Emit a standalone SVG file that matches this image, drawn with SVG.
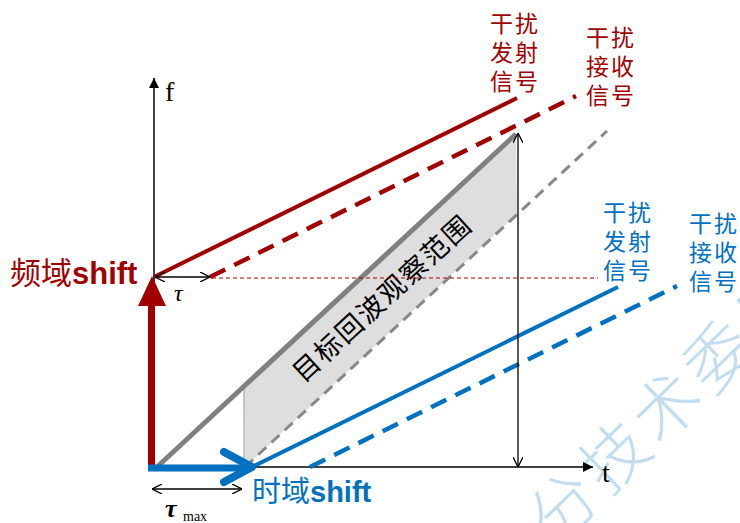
<svg xmlns="http://www.w3.org/2000/svg" width="740" height="523" viewBox="0 0 740 523">
<style>
.cjk{font-family:"Noto Sans CJK SC","Noto Sans",sans-serif}
.red{fill:#A00000}
.blue{fill:#0070C0}
.lbl{font-size:23px;letter-spacing:2px}
.ser{font-family:"Liberation Serif","Times New Roman",serif}
.thin{stroke:#000;stroke-width:1.3;fill:none}
</style>
<defs>
<marker id="ah" viewBox="0 0 10 10" refX="10" refY="5" markerWidth="10" markerHeight="10" markerUnits="userSpaceOnUse" orient="auto-start-reverse">
<path d="M0,0 L10,5 L0,10" fill="none" stroke="#000" stroke-width="1.3"/>
</marker>
<marker id="fa" viewBox="0 0 10 10" refX="10" refY="5" markerWidth="10" markerHeight="10" markerUnits="userSpaceOnUse" orient="auto">
<path d="M0,0 L10,5 L0,10 Z" fill="#000"/>
</marker>
</defs>
<rect width="740" height="523" fill="#fff"/>
<!-- watermark -->
<g id="watermark" class="cjk" fill="#C3DDF0" font-size="66" letter-spacing="6" font-weight="300">
<text dominant-baseline="central" transform="translate(484,576) rotate(-44)">会分技术委员会</text>
</g>
<g id="band">
<polygon points="244,386 516,134 517,214 245,467" fill="#DEDEDE"/>
<line x1="244" y1="386" x2="244" y2="467" stroke="#A8A8A8" stroke-width="1.2"/>
<text class="cjk" font-size="27" letter-spacing="2" fill="#000" text-anchor="middle" dominant-baseline="central" transform="translate(381,297) rotate(-42.5)">目标回波观察范围</text>
</g>
<g id="connectors">
<!-- axes -->
<line x1="154" y1="470" x2="154" y2="78" stroke="#000" stroke-width="1.5" marker-end="url(#fa)"/>
<line x1="150" y1="467" x2="593" y2="467" stroke="#000" stroke-width="1.5" marker-end="url(#fa)"/>
<!-- gray lines -->
<line x1="157" y1="467" x2="516" y2="134" stroke="#808080" stroke-width="5"/>
<line x1="245" y1="467" x2="607" y2="131" stroke="#888" stroke-width="3" stroke-dasharray="11 7"/>
<!-- red lines -->
<line x1="154" y1="277" x2="517" y2="98" stroke="#A00000" stroke-width="4"/>
<line x1="210" y1="277" x2="576" y2="96" stroke="#A00000" stroke-width="4.5" stroke-dasharray="17 10"/>
<line x1="212" y1="278" x2="598" y2="278" stroke="#A00000" stroke-width="1" stroke-dasharray="4 3"/>
<!-- blue lines -->
<line x1="250" y1="468" x2="618" y2="287" stroke="#0070C0" stroke-width="4"/>
<line x1="310" y1="467" x2="677" y2="286" stroke="#0070C0" stroke-width="4.5" stroke-dasharray="17 10"/>
<!-- double arrows -->
<line x1="155" y1="277" x2="210" y2="277" class="thin" marker-start="url(#ah)" marker-end="url(#ah)"/>
<line x1="152" y1="489" x2="242" y2="489" class="thin" marker-start="url(#ah)" marker-end="url(#ah)"/>
<line x1="518" y1="133" x2="518" y2="467" class="thin" marker-start="url(#ah)" marker-end="url(#ah)"/>
</g>
<g id="freq-shift">
<rect x="148" y="300" width="7" height="170" fill="#A00000"/>
<polygon points="152,276 138,306 166,306" fill="#A00000"/>
<text x="10" y="284" class="red"><tspan class="cjk" font-size="31">频域</tspan><tspan font-family="Liberation Sans,Arial,sans-serif" font-weight="bold" font-size="31">shift</tspan></text>
</g>
<g id="time-shift">
<line x1="148" y1="468" x2="248" y2="468" stroke="#0070C0" stroke-width="7"/>
<polyline points="224,452 252,467 224,482" fill="none" stroke="#0070C0" stroke-width="8" stroke-linecap="round" stroke-linejoin="round"/>
<text x="252" y="502" class="blue"><tspan class="cjk" font-size="29">时域</tspan><tspan font-family="Liberation Sans,Arial,sans-serif" font-weight="bold" font-size="29">shift</tspan></text>
</g>
<g id="axis-labels" class="ser" fill="#000">
<text x="165" y="101" font-size="28">f</text>
<text x="602" y="482" font-size="28">t</text>
<text x="174" y="301" font-size="24" font-style="italic">τ</text>
<text x="165" y="517" font-size="26" font-style="italic" font-weight="bold">τ</text>
<text x="183" y="521" font-size="14">max</text>
</g>
<g id="red-tx" class="cjk red lbl">
<text x="490" y="32">干扰</text>
<text x="490" y="61">发射</text>
<text x="490" y="90">信号</text>
</g>
<g id="red-rx" class="cjk red lbl">
<text x="586" y="46">干扰</text>
<text x="586" y="75">接收</text>
<text x="586" y="104">信号</text>
</g>
<g id="blue-tx" class="cjk blue lbl">
<text x="603" y="221">干扰</text>
<text x="603" y="250">发射</text>
<text x="603" y="279">信号</text>
</g>
<g id="blue-rx" class="cjk blue lbl">
<text x="689" y="232">干扰</text>
<text x="689" y="261">接收</text>
<text x="689" y="290">信号</text>
</g>
</svg>
